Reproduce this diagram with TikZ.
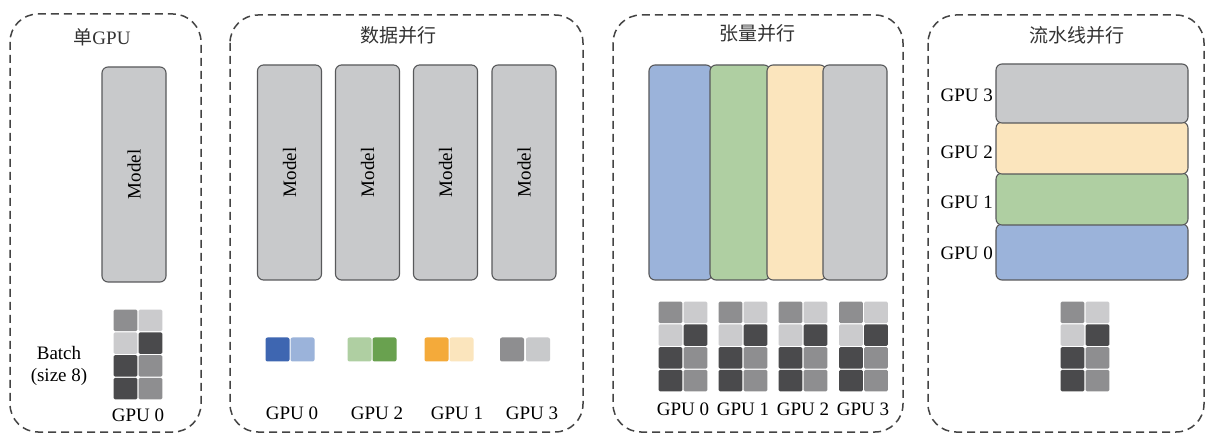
\documentclass[tikz,border=0pt]{standalone}
\usepackage{fontspec}
\setmainfont{Liberation Serif}
\newfontfamily\cjk{Noto Sans CJK SC}
\definecolor{boxline}{HTML}{58595B}
\definecolor{panelline}{HTML}{444444}
\definecolor{mgray}{HTML}{C8C9CB}
\definecolor{mblue}{HTML}{9BB3DA}
\definecolor{mgreen}{HTML}{AFCFA2}
\definecolor{myellow}{HTML}{FBE5BD}
\definecolor{dblue}{HTML}{3E66B1}
\definecolor{dgreen}{HTML}{69A14F}
\definecolor{dorange}{HTML}{F4AA3A}
\definecolor{dgray}{HTML}{8E8E90}
\definecolor{gmed}{HTML}{8E8E90}
\definecolor{glight}{HTML}{CBCBCD}
\definecolor{gdark}{HTML}{4A4A4C}
\newcommand\bgrid[2]{%
  \foreach \c/\r/\col in {0/0/gmed,1/0/glight,0/1/glight,1/1/gdark,0/2/gdark,1/2/gmed,0/3/gdark,1/3/gmed}
    \fill[\col, rounded corners=1.5pt] ({#1+\c*25+0.6},{#2+\r*22.75+0.6}) rectangle ({#1+\c*25+24.4},{#2+\r*22.75+22.15});}
\begin{document}
\begin{tikzpicture}[x=1pt,y=-1pt,
  panel/.style={draw=panelline, dash pattern=on 8pt off 5pt, line width=1.5pt, rounded corners=28pt},
  mbox/.style={draw=boxline, line width=1.1pt, rounded corners=6pt, inner sep=0pt},
  lbl/.style={font=\fontsize{19}{22}\selectfont, inner sep=0pt},
  ttl/.style={font=\cjk\fontsize{19}{22}\selectfont, inner sep=0pt, text=black!80},
  sq/.style={rounded corners=2pt, inner sep=0pt, minimum width=24pt, minimum height=24pt}]
\fill[white] (0,0) rectangle (1210,435);
\useasboundingbox (0,0) rectangle (1210,435);
% panels
\draw[panel] (10,14) rectangle (201,432);
\draw[panel] (230,15) rectangle (583,432);
\draw[panel] (613,15) rectangle (903,432);
\draw[panel] (928,15) rectangle (1204,432);
% titles
\node[ttl] (t1) at (102,37) {单\fontspec{Liberation Serif}GPU};
\node[ttl] (t2) at (398,35) {数据并行};
\node[ttl] (t3) at (757,33) {张量并行};
\node[ttl] (t4) at (1077,35) {流水线并行};
% panel 1
\node[mbox, fill=mgray, minimum width=64pt, minimum height=215pt] (m1) at (134,174.5) {};
\node[lbl, rotate=90] (m1l) at (m1) {Model};
\bgrid{113}{309}
\node[lbl, align=center] (batch) at (59,366) {Batch\\(size 8)};
\node[lbl] (g1) at (138,415) {GPU 0};
% panel 2
\foreach \i/\x in {1/289.5,2/367.5,3/445.5,4/524}{
  \node[mbox, fill=mgray, minimum width=64pt, minimum height=215pt] (d\i) at (\x,172.5) {};
  \node[lbl, rotate=90] (d\i l) at (d\i) {Model};
}
\node[sq, fill=dblue] (s1a) at (277.5,349.5) {};
\node[sq, fill=mblue] (s1b) at (302.5,349.5) {};
\node[sq, fill=mgreen] (s2a) at (359.5,349.5) {};
\node[sq, fill=dgreen] (s2b) at (384.5,349.5) {};
\node[sq, fill=dorange] (s3a) at (436.5,349.5) {};
\node[sq, fill=myellow] (s3b) at (461.5,349.5) {};
\node[sq, fill=dgray] (s4a) at (512,349.5) {};
\node[sq, fill=mgray] (s4b) at (538,349.5) {};
\node[lbl] (dg0) at (292,413) {GPU 0};
\node[lbl] (dg2) at (377,413) {GPU 2};
\node[lbl] (dg1) at (457,413) {GPU 1};
\node[lbl] (dg3) at (532,413) {GPU 3};
% panel 3
\draw[mbox, fill=mblue] (649,65) rectangle (712,280);
\draw[mbox, fill=mgreen] (710,65) rectangle (770,280);
\draw[mbox, fill=myellow] (767,65) rectangle (826,280);
\draw[mbox, fill=mgray] (823,65) rectangle (887,280);
\bgrid{658}{301}
\bgrid{718}{301}
\bgrid{778}{301}
\bgrid{838.5}{301}
\node[lbl] (tg0) at (683,409) {GPU 0};
\node[lbl] (tg1) at (743,409) {GPU 1};
\node[lbl] (tg2) at (803,409) {GPU 2};
\node[lbl] (tg3) at (863,409) {GPU 3};
% panel 4
\draw[mbox, fill=mblue] (996,224) rectangle (1188,280);
\draw[mbox, fill=mgreen] (996,173) rectangle (1188,225);
\draw[mbox, fill=myellow] (996,122) rectangle (1188,174);
\draw[mbox, fill=mgray] (996,64) rectangle (1188,123);
\node[lbl, anchor=east] (pg3) at (993,95) {GPU 3};
\node[lbl, anchor=east] (pg2) at (993,152) {GPU 2};
\node[lbl, anchor=east] (pg1) at (993,202) {GPU 1};
\node[lbl, anchor=east] (pg0) at (993,253) {GPU 0};
\bgrid{1060}{301}
\end{tikzpicture}
\end{document}
